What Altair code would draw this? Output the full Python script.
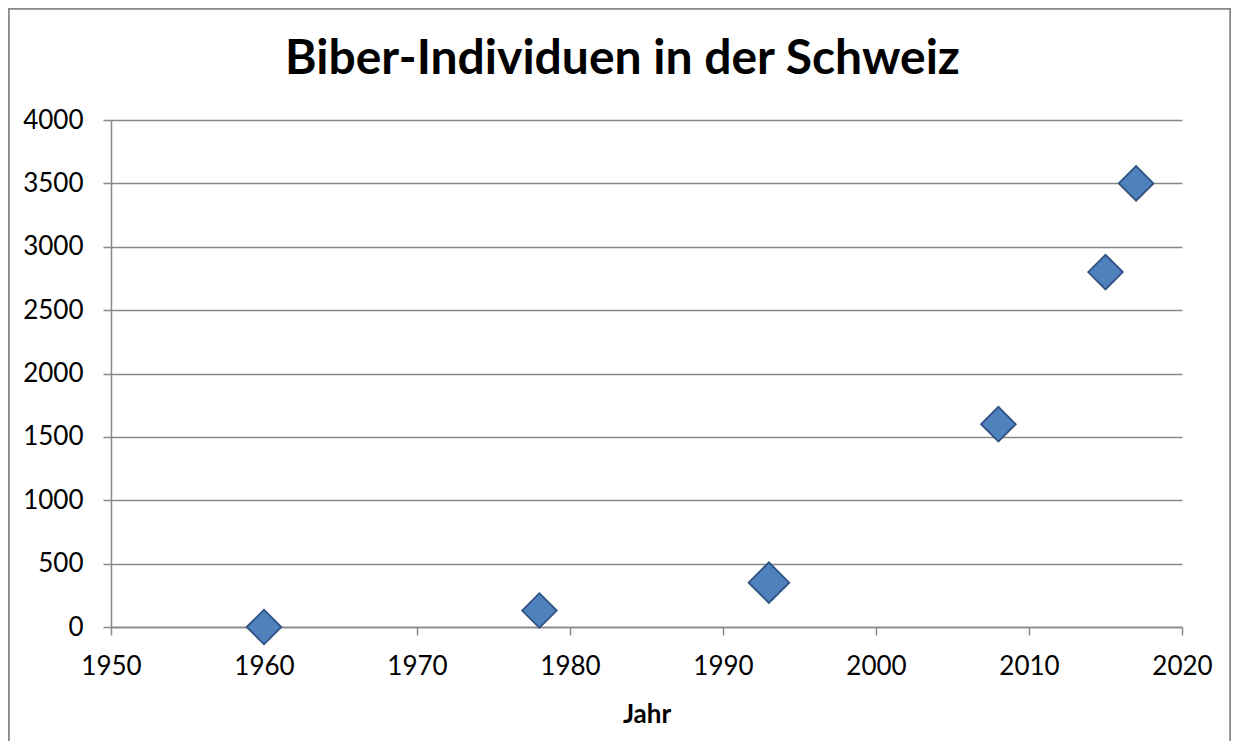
import altair as alt
import pandas as pd

years = [1960, 1978, 1993, 2008, 2015, 2017]
beavers = [0, 130, 350, 1600, 2800, 3500]

df = pd.DataFrame({"Jahr": years, "Individuen": beavers})

FONT = "Lato"
GRID = "#878787"

W, H = 1071, 507
PAD = {"left": 103, "top": 112, "right": 49, "bottom": 114}

points = alt.Chart(df).mark_point(
    shape="diamond", filled=True, fill="#4F81BD", stroke="#2F5380",
    strokeWidth=1.8, opacity=1
).encode(
    x=alt.X("Jahr:Q", scale=alt.Scale(domain=[1950, 2020], nice=False),
            axis=alt.Axis(values=list(range(1950, 2021, 10)), format="d",
                          grid=False, title="Jahr", labelFlush=False)),
    y=alt.Y("Individuen:Q", scale=alt.Scale(domain=[0, 4000], nice=False),
            axis=alt.Axis(values=list(range(0, 4001, 500)), format="d",
                          grid=True, title=None)),
    size=alt.condition(alt.datum.Jahr == 1993, alt.value(1650), alt.value(1200)),
)

frame = alt.Chart(df).mark_rect(
    fill=None, filled=False, stroke="#8a8a8a", strokeWidth=1.5, clip=False
).encode(
    x=alt.value(-102.5), x2=alt.value(W + PAD["right"] - 0.5),
    y=alt.value(-111.5), y2=alt.value(H + 130),
)

chart = alt.layer(frame, points).properties(
    width=W, height=H,
    autosize=alt.AutoSizeParams(type="none"),
    padding=PAD,
    title=alt.TitleParams(
        "Biber-Individuen in der Schweiz", font=FONT, fontSize=48,
        fontWeight="bold", color="#000000", anchor="middle", dx=-24,
        offset=0, baseline="alphabetic", dy=114,
    ),
).configure_view(stroke=None).configure_axis(
    labelFont=FONT, labelFontSize=26, labelColor="#000000",
    titleFont=FONT, titleFontSize=26, titleFontWeight="bold", titleColor="#000000",
    domainColor=GRID, domainWidth=1.5, tickColor=GRID, tickWidth=1.5, tickSize=8,
    gridColor=GRID, gridWidth=1.5, labelPadding=18,
).configure_axisX(titlePadding=22).configure_axisY(labelPadding=20)

chart.save("out.html", embed_options={"renderer": "svg", "actions": False})
